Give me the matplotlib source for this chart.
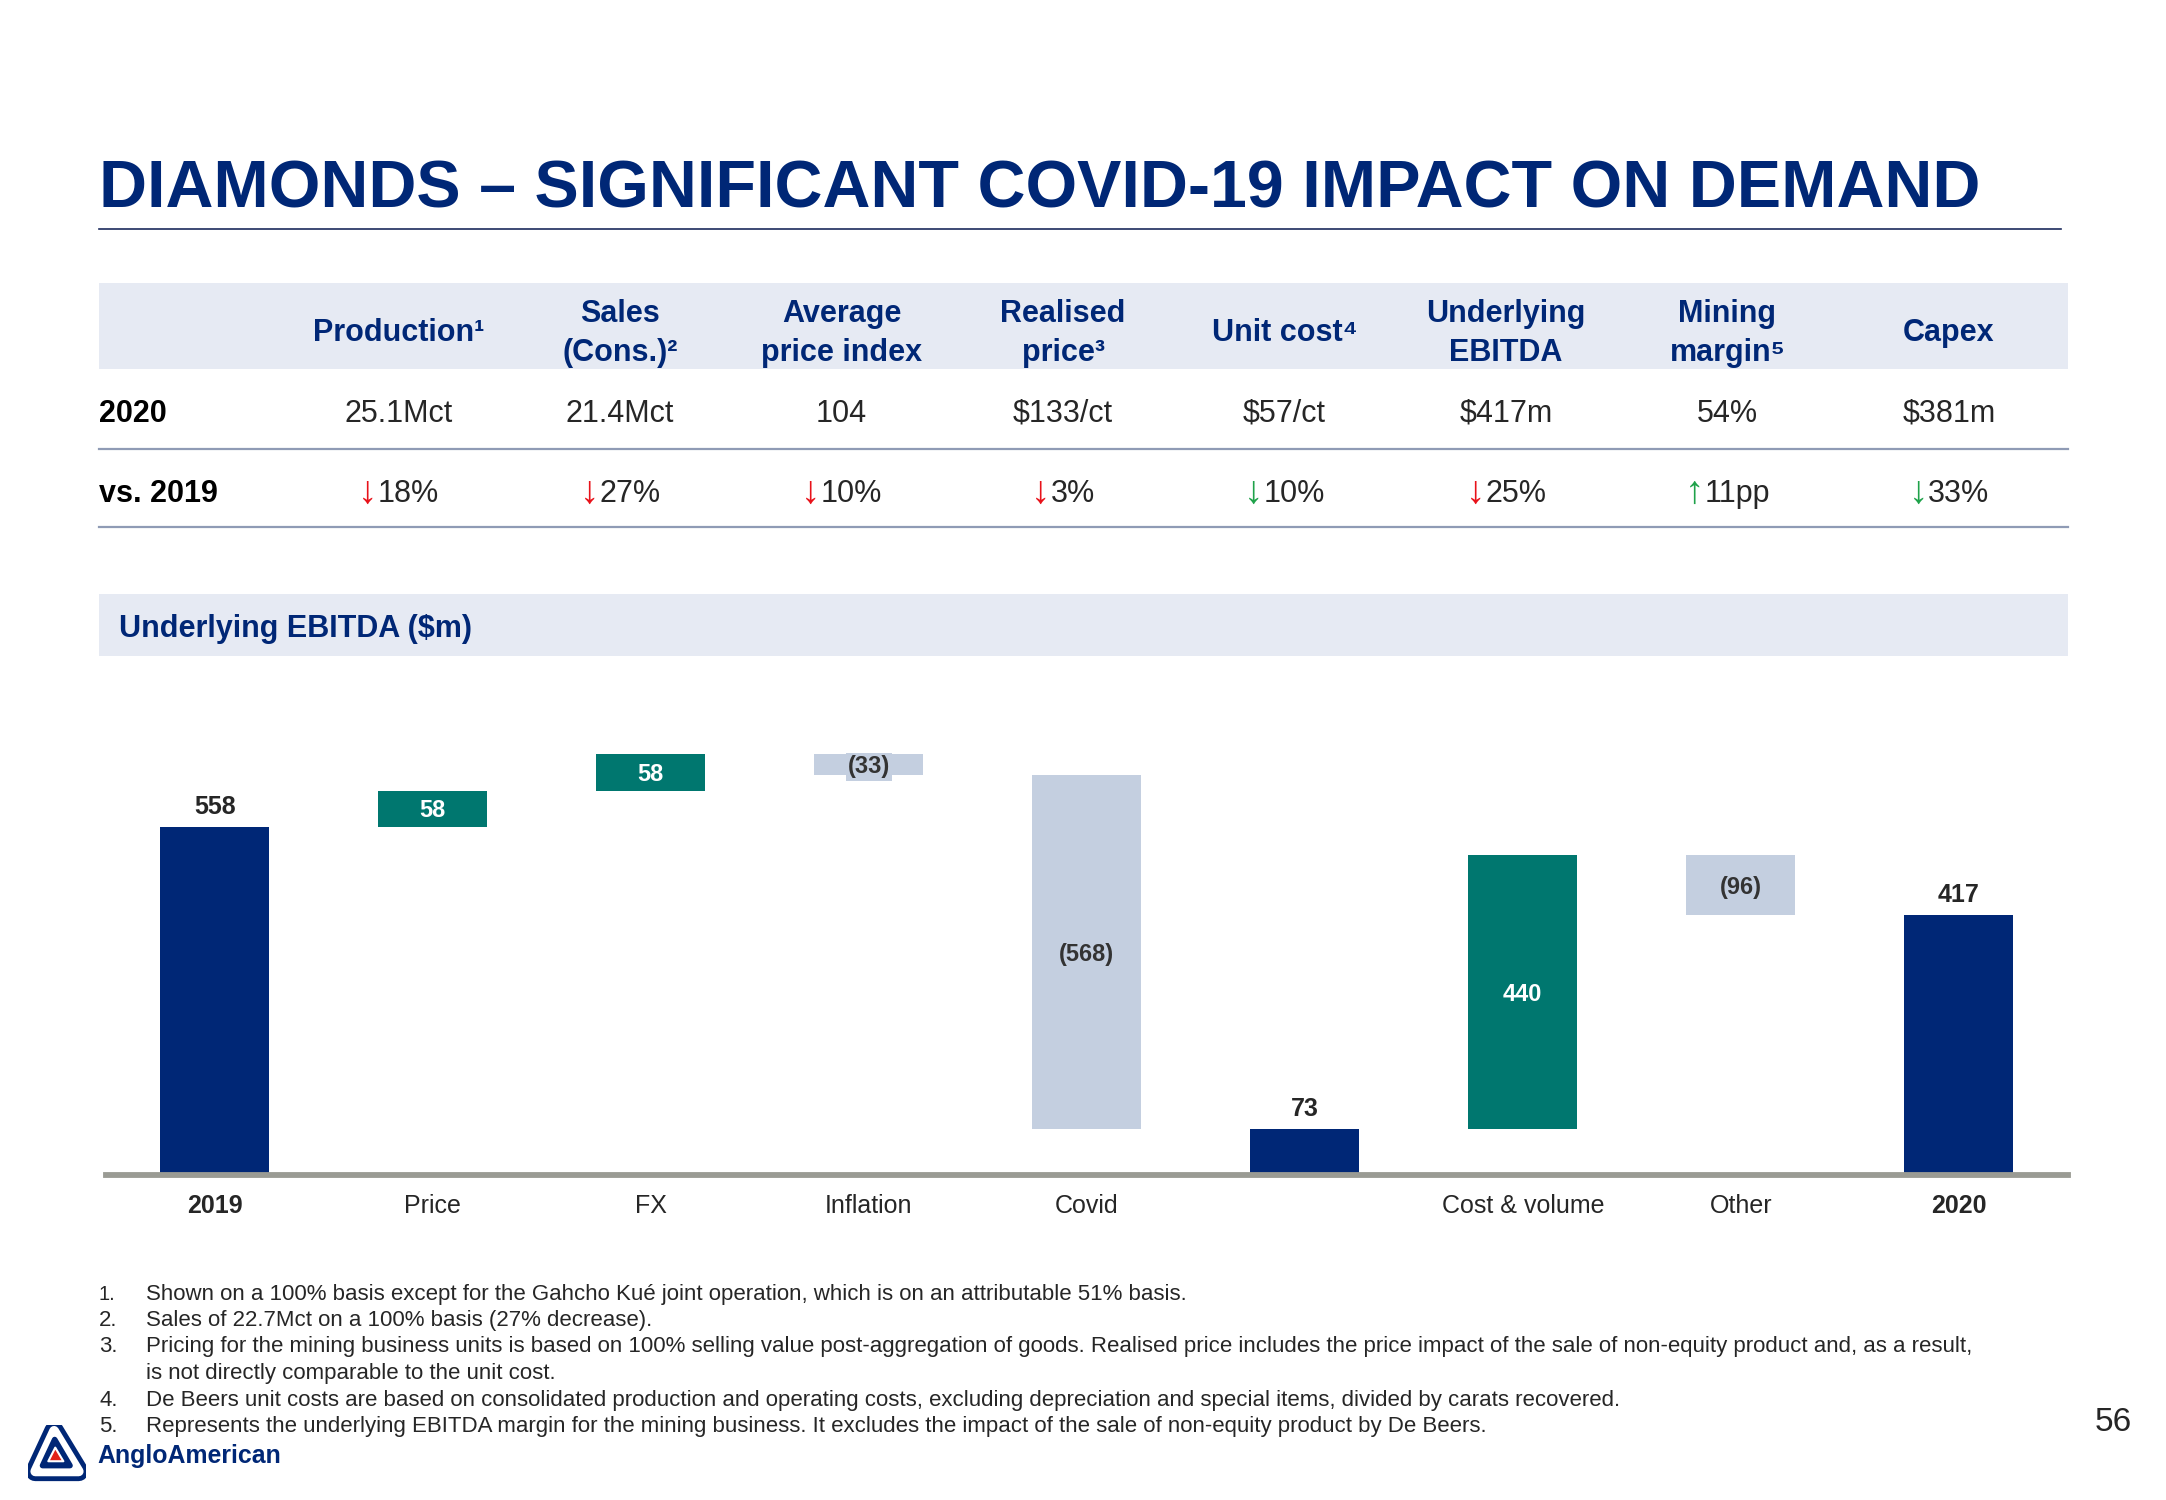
import matplotlib
matplotlib.use("Agg")
import matplotlib.pyplot as plt
from matplotlib.patches import Rectangle, Polygon
from matplotlib.lines import Line2D

# ---------------- data ----------------
title = "DIAMONDS – SIGNIFICANT COVID-19 IMPACT ON DEMAND"
headers = ["Production¹", "Sales\n(Cons.)²", "Average\nprice index", "Realised\nprice³",
           "Unit cost⁴", "Underlying\nEBITDA", "Mining\nmargin⁵", "Capex"]
row_labels = ["2020", "vs. 2019"]
values_2020 = ["25.1Mct", "21.4Mct", "104", "$133/ct", "$57/ct", "$417m", "54%", "$381m"]
change_values = ["18%", "27%", "10%", "3%", "10%", "25%", "11pp", "33%"]
change_dirs = ["down", "down", "down", "down", "down", "down", "up", "down"]
change_good = [False, False, False, False, True, False, True, True]

chart_title = "Underlying EBITDA ($m)"
categories = ["2019", "Price", "FX", "Inflation", "Covid", "", "Cost & volume", "Other", "2020"]
ebitda = [558, 58, 58, -33, -568, 73, 440, -96, 417]
is_total = [True, False, False, False, False, True, False, False, True]

footnotes = [
    ("1.", "Shown on a 100% basis except for the Gahcho Kué joint operation, which is on an attributable 51% basis."),
    ("2.", "Sales of 22.7Mct on a 100% basis (27% decrease)."),
    ("3.", "Pricing for the mining business units is based on 100% selling value post-aggregation of goods. Realised price includes the price impact of the sale of non-equity product and, as a result,"),
    ("", "is not directly comparable to the unit cost."),
    ("4.", "De Beers unit costs are based on consolidated production and operating costs, excluding depreciation and special items, divided by carats recovered."),
    ("5.", "Represents the underlying EBITDA margin for the mining business. It excludes the impact of the sale of non-equity product by De Beers."),
]
page_number = "56"
brand = "AngloAmerican"

# ---------------- style ----------------
W, H = 2166, 1500
plt.rcParams["font.family"] = ["Liberation Sans", "DejaVu Sans"]
NAVY = "#002776"
TEAL = "#00776f"
LIGHT = "#c4cfe0"
BAND = "#e6eaf3"
RULE = "#8f9bb5"
DARK = "#262626"
RED = "#e8121a"
GREEN = "#1fa24a"
GRAYLINE = "#9a9b94"

fig = plt.figure(figsize=(W / 100, H / 100), dpi=100)
fig.patch.set_facecolor("white")
renderer = fig.canvas.get_renderer()


def T(x, y, s, **kw):
    return fig.text(x / W, 1 - y / H, s, parse_math=False, **kw)


def fit(t, target_w):
    w = t.get_window_extent(renderer).width
    t.set_fontsize(t.get_fontsize() * target_w / w)
    return t.get_fontsize()


def rect(x0, y0, x1, y1, color):
    fig.add_artist(Rectangle((x0 / W, 1 - y1 / H), (x1 - x0) / W, (y1 - y0) / H,
                             facecolor=color, edgecolor="none", zorder=0))


def hline(x0, x1, y, color, lw):
    fig.add_artist(Line2D([x0 / W, x1 / W], [1 - y / H, 1 - y / H], color=color, lw=lw))


# ---------------- title ----------------
t = T(99, 207, title, fontsize=48, fontweight="bold", color=NAVY, ha="left", va="baseline")
fit(t, 1879)
hline(99, 2061, 229, "#1b2a5c", 1.2)

# ---------------- table ----------------
rect(99, 283, 2068, 369, BAND)
col_x = [398.5 + 221.5 * i for i in range(len(headers))]
for cx, h in zip(col_x, headers):
    lines = h.split("\n")
    bases = [341] if len(lines) == 1 else [322, 361]
    for ln, b in zip(lines, bases):
        T(cx, b, ln, fontsize=22, fontweight="bold", color=NAVY, ha="center", va="baseline")

T(99, 422, row_labels[0], fontsize=22, fontweight="bold", color="black", ha="left", va="baseline")
T(99, 502, row_labels[1], fontsize=22, fontweight="bold", color="black", ha="left", va="baseline")
for cx, v in zip(col_x, values_2020):
    T(cx, 422, v, fontsize=22, color=DARK, ha="center", va="baseline")

for cx, v, d, g in zip(col_x, change_values, change_dirs, change_good):
    arrow = "↓" if d == "down" else "↑"
    ta = T(0, 503, arrow, fontsize=28, color=GREEN if g else RED, ha="left", va="baseline")
    tb = T(0, 502, v, fontsize=22, color=DARK, ha="left", va="baseline")
    wa = ta.get_window_extent(renderer).width
    wb = tb.get_window_extent(renderer).width
    x0 = cx - (wa + wb) / 2
    ta.set_x(x0 / W)
    tb.set_x((x0 + wa) / W)

hline(99, 2068, 449, RULE, 1.6)
hline(99, 2068, 527, RULE, 1.6)

# ---------------- chart band ----------------
rect(99, 594, 2068, 656, BAND)
T(119, 637, chart_title, fontsize=22, fontweight="bold", color=NAVY, ha="left", va="baseline")

# ---------------- waterfall ----------------
ax = fig.add_axes([105.8 / W, 325 / H, 1962 / W, 436.8 / H])
ax.set_xlim(-0.5, len(categories) - 0.5)
ax.set_ylim(0, 700)
ax.patch.set_alpha(0)
for s in ax.spines.values():
    s.set_visible(False)
ax.yaxis.set_visible(False)

running = 0
for i, (v, tot) in enumerate(zip(ebitda, is_total)):
    if tot:
        bottom, height, color = 0, v, NAVY
        running = v
    else:
        bottom = running if v > 0 else running + v
        height = abs(v)
        color = TEAL if v > 0 else LIGHT
        running += v
    ax.bar(i, height, bottom=bottom, width=0.5, color=color, zorder=2)
    if tot:
        ax.annotate(f"{v}", (i, bottom + height), xytext=(0, 9.4), textcoords="offset points",
                    ha="center", va="baseline", fontsize=18, fontweight="bold", color=DARK)
    elif v > 0:
        ax.annotate(f"{v}", (i, bottom + height / 2), xytext=(0, -6.3), textcoords="offset points",
                    ha="center", va="baseline", fontsize=17, fontweight="bold", color="white", zorder=3)
    else:
        ax.annotate(f"({abs(v)})", (i, bottom + height / 2), xytext=(0, -6.3), textcoords="offset points",
                    ha="center", va="baseline", fontsize=17, fontweight="bold", color="#333333", zorder=3,
                    bbox=dict(facecolor=LIGHT, edgecolor="none", pad=1.5))

ax.axhline(0, color=GRAYLINE, lw=4.2, zorder=4, clip_on=False)
ax.set_xticks(range(len(categories)))
ax.set_xticklabels(categories)
ax.tick_params(axis="x", length=0, pad=14, labelsize=18, labelcolor=DARK)
for lab, tot in zip(ax.get_xticklabels(), is_total):
    lab.set_fontweight("bold" if tot else "normal")

# ---------------- footnotes ----------------
bases = [1300, 1326, 1352, 1379, 1406, 1432]
fs = None
for k, ((num, txt), b) in enumerate(zip(footnotes, bases)):
    if num:
        T(99, b, num, fontsize=14.5 if fs is None else fs, color=DARK, ha="left", va="baseline")
    tt = T(146, b, txt, fontsize=14.5 if fs is None else fs, color=DARK, ha="left", va="baseline")
    if fs is None:
        fs = fit(tt, 1044)

T(2113, 1431, page_number, fontsize=24, color=DARK, ha="center", va="baseline")

# ---------------- logo ----------------
lax = fig.add_axes([28 / W, (H - 1483) / H, 58 / W, 58 / H])
lax.set_xlim(-1, 1)
lax.set_ylim(-1, 1)
lax.set_aspect("equal")
lax.axis("off")
tri = [(-0.1, 0.8), (0.75, -0.6), (-0.75, -0.6)]
lax.add_patch(Polygon(tri, closed=True, facecolor=NAVY, edgecolor=NAVY, lw=14, joinstyle="round"))
lax.add_patch(Polygon(tri, closed=True, facecolor="white", edgecolor="white", lw=7, joinstyle="round"))
tri2 = [(-0.08, 0.5), (0.45, -0.4), (-0.5, -0.4)]
lax.add_patch(Polygon(tri2, closed=True, facecolor=NAVY, edgecolor=NAVY, lw=4, joinstyle="round"))
tri3 = [(-0.06, 0.22), (0.22, -0.25), (-0.3, -0.25)]
lax.add_patch(Polygon(tri3, closed=True, facecolor="#e2231a", edgecolor="white", lw=1.5, joinstyle="round"))
bt = T(97, 1463, brand, fontsize=18, fontweight="bold", color=NAVY, ha="left", va="baseline")
fit(bt, 184)

fig.savefig("out.png", dpi=100, facecolor="white")
